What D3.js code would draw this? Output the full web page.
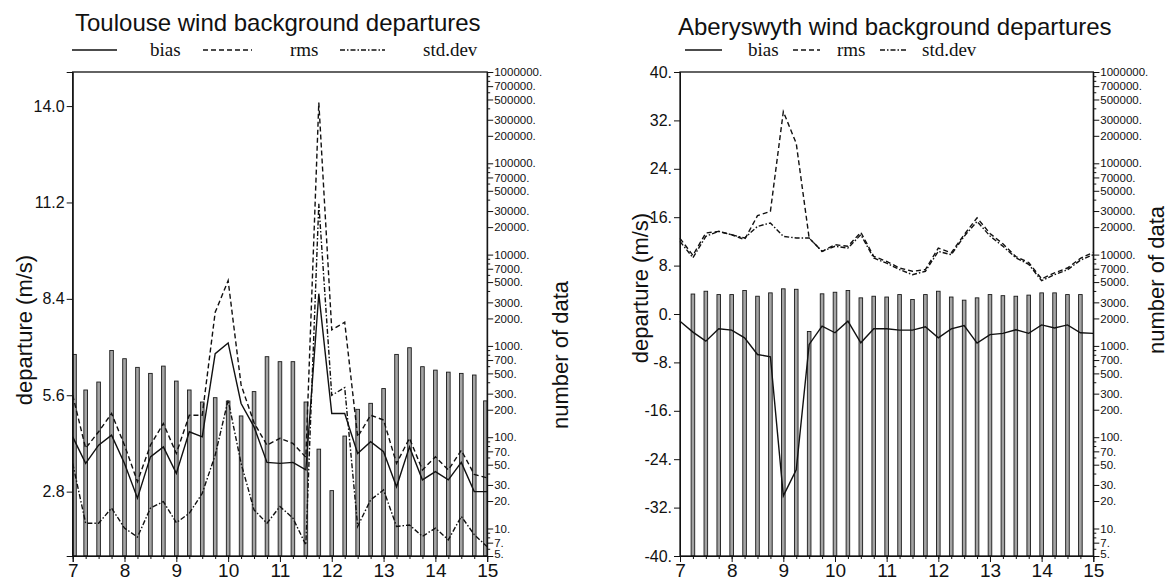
<!DOCTYPE html>
<html><head><meta charset="utf-8">
<script src="https://cdn.jsdelivr.net/npm/d3@7"></script>
<style>body{margin:0;background:#fff}svg{display:block}</style>
</head><body>
<svg id="c" width="1176" height="583"></svg>
<script>
// ---------- data ----------
const hours = [7,7.25,7.5,7.75,8,8.25,8.5,8.75,9,9.25,9.5,9.75,10,10.25,10.5,10.75,11,11.25,11.5,11.75,12,12.25,12.5,12.75,13,13.25,13.5,13.75,14,14.25,14.5,14.75,15];
const xTickLabels = [7,8,9,10,11,12,13,14,15];

const toulouseBias = [4.39,3.62,4.15,4.44,3.62,2.61,3.81,4.10,3.33,4.54,4.39,6.81,7.12,5.36,4.68,3.65,3.62,3.65,3.43,8.55,5.07,5.07,3.91,4.25,3.96,2.94,4.10,3.14,3.38,3.14,3.65,2.80,2.80];
const toulouseRms  = [5.60,4.06,4.54,5.07,4.15,3.09,4.15,4.78,3.91,5.02,5.02,8.01,8.93,5.90,4.80,4.15,4.35,4.20,3.80,14.10,7.50,7.72,4.39,5.02,4.88,3.62,4.35,3.43,3.81,3.43,4.00,3.30,3.20];
const toulouseStd  = [3.62,1.88,1.88,2.32,1.74,1.48,2.32,2.51,1.90,2.17,2.75,3.86,5.46,3.62,2.27,1.88,2.37,2.03,1.25,11.16,5.60,5.82,1.79,2.56,2.85,1.79,1.83,1.50,1.74,1.40,2.08,1.55,1.20];
const toulouseCount = [807,329,402,891,724,582,500,601,412,329,243,271,249,171,316,762,672,672,243,74,26,103,202,235,341,807,955,592,543,516,500,480,250];
const toulouseTicks = [2.8,5.6,8.4,11.2,14.0];

const aberBias = [-1.2,-3.0,-4.49,-2.45,-2.67,-3.94,-6.7,-7.07,-30.06,-25.76,-5.03,-2.0,-3.1,-1.19,-4.75,-2.45,-2.45,-2.67,-2.67,-2.12,-3.94,-2.45,-1.9,-4.8,-3.4,-3.2,-2.6,-3.2,-1.8,-2.3,-1.8,-3.1,-3.2];
const aberRms  = [12.5,9.7,13.4,13.66,13.1,12.3,16.25,16.96,33.45,28.2,12.55,10.36,11.46,11.2,13.5,9.53,8.7,7.6,7.06,7.34,10.9,10.1,13.1,15.9,13.3,11.6,9.5,8.5,5.8,6.8,7.6,9.2,10.2];
const aberStd  = [12.0,9.3,12.84,13.66,13.1,12.56,14.48,15.04,12.84,12.56,12.56,10.36,11.2,10.9,13.1,9.26,8.4,7.34,6.5,7.06,10.36,9.8,12.84,15.3,12.9,11.2,9.3,8.2,5.5,6.5,7.3,8.9,9.8];
const aberCount = [null,3700,3970,3650,3650,4040,3500,3810,4220,4170,1440,3720,3870,4040,3360,3500,3430,3650,3220,3650,3970,3430,3170,3360,3650,3550,3500,3600,3810,3810,3650,3650,null];
const aberTicks = [-40,-32,-24,-16,-8,0,8,16,24,32,40];

const countTickLabels = [5,7,10,20,30,50,70,100,200,300,500,700,1000,2000,3000,5000,7000,10000,20000,30000,50000,70000,100000,200000,300000,500000,700000,1000000];
const legendLabels = ["bias","rms","std.dev"];

// ---------- layout ----------
const Y0 = 72, Y1 = 556;
const panels = [
  {title:"Toulouse wind background departures", x0:72.7, x1:487.2, yDomain:[0.93,14.99], ticks:toulouseTicks,
   fmt:d3.format(".1f"), bias:toulouseBias, rms:toulouseRms, std:toulouseStd, count:toulouseCount,
   titleX:75, titleY:31, leg:{solid:[72,117], bias:150, dash:[203,252], rms:290, dd:[340,385], std:423},
   ylab:[24,330], nlab:[560,355]},
  {title:"Aberyswyth wind background departures", x0:680, x1:1093.3, yDomain:[-40,40], ticks:aberTicks,
   fmt:d=>d+".", bias:aberBias, rms:aberRms, std:aberStd, count:aberCount,
   titleX:678, titleY:35, leg:{solid:[685,722], bias:748, dash:[793,820], rms:837, dd:[880,908], std:922},
   ylab:[640,288], nlab:[1156,280]}
];

const svg = d3.select("#c");
const sans = "'Liberation Sans', Arial, Helvetica, sans-serif";
const serif = "'Liberation Serif', 'Times New Roman', serif";

const minorCount = [];
for (let e = 0; e <= 5; e++) for (const m of [4,6,8,9]) { const v = m*Math.pow(10,e); if (v>5 && v<1e6) minorCount.push(v); }

panels.forEach(p => {
  const g = svg.append("g");
  const x = d3.scaleLinear().domain([7,15]).range([p.x0,p.x1]);
  const y = d3.scaleLinear().domain(p.yDomain).range([Y1,Y0]);
  const yc = d3.scaleLog().domain([5,1e6]).range([Y1,Y0]);

  // bars (number of data)
  const bw = 3.6;
  const bars = hours.map((h,i)=>({h, n:p.count[i]})).filter(d=>d.n!=null);
  g.selectAll("rect.bar").data(bars).join("rect")
    .attr("x", d => Math.max(p.x0, Math.min(p.x1-bw, x(d.h)-bw/2)))
    .attr("y", d => yc(d.n))
    .attr("width", bw)
    .attr("height", d => Y1 - yc(d.n))
    .attr("fill", "#a4a4a4").attr("stroke", "#1a1a1a").attr("stroke-width", 0.9);

  // lines
  const line = arr => d3.line().x((d,i)=>x(hours[i])).y(d=>y(d))(arr);
  const styles = [
    {data:p.std, dash:"5,2,1.5,2"},
    {data:p.rms, dash:"5,3"},
    {data:p.bias, dash:null}
  ];
  styles.forEach(s => {
    g.append("path").attr("d", line(s.data)).attr("fill","none")
      .attr("stroke","#111").attr("stroke-width",1.4)
      .attr("stroke-dasharray", s.dash);
  });

  // frame
  g.append("rect").attr("x",p.x0).attr("y",Y0).attr("width",p.x1-p.x0).attr("height",Y1-Y0)
    .attr("fill","none").attr("stroke","#111").attr("stroke-width",1.3);

  // left axis
  const ax = g.append("g").attr("transform",`translate(${p.x0},0)`)
    .call(d3.axisLeft(y).tickValues(p.ticks).tickFormat(p.fmt).tickSize(6).tickPadding(2));
  ax.selectAll("text").attr("font-family",sans).attr("font-size",16).attr("fill","#111");

  // bottom axis: minor (quarters) + major (integers)
  g.append("g").attr("transform",`translate(0,${Y1})`)
    .call(d3.axisBottom(x).tickValues(hours).tickFormat("").tickSize(3))
    .call(s=>s.select(".domain").remove());
  const bx = g.append("g").attr("transform",`translate(0,${Y1})`)
    .call(d3.axisBottom(x).tickValues(xTickLabels).tickFormat(d3.format("d")).tickSize(6).tickPadding(2));
  bx.selectAll("text").attr("font-family",sans).attr("font-size",19).attr("fill","#111");

  // right log axis
  g.append("g").attr("transform",`translate(${p.x1},0)`)
    .call(d3.axisRight(yc).tickValues(minorCount).tickFormat("").tickSize(3))
    .call(s=>s.select(".domain").remove());
  const rx = g.append("g").attr("transform",`translate(${p.x1},0)`)
    .call(d3.axisRight(yc).tickValues(countTickLabels).tickFormat(d=>d+".").tickSize(6).tickPadding(1));
  rx.selectAll("text").attr("font-family",sans).attr("font-size",11.5).attr("fill","#111");
  rx.selectAll(".tick").filter(d=>d===5).select("text").attr("dy","0.1em");

  g.selectAll(".domain, .tick line").attr("stroke","#111");

  // titles
  g.append("text").attr("x",p.titleX).attr("y",p.titleY).text(p.title)
    .attr("font-family",sans).attr("font-size",24).attr("fill","#111");
  g.append("text").attr("transform",`translate(${p.ylab[0]},${p.ylab[1]}) rotate(-90)`)
    .attr("text-anchor","middle").attr("dy","0.35em").text("departure (m/s)")
    .attr("font-family",sans).attr("font-size",22).attr("fill","#111");
  g.append("text").attr("transform",`translate(${p.nlab[0]},${p.nlab[1]}) rotate(-90)`)
    .attr("text-anchor","middle").attr("dy","0.35em").text("number of data")
    .attr("font-family",sans).attr("font-size",22).attr("fill","#111");

  // legend
  const ly = 50, lt = 56;
  const L = p.leg;
  g.append("line").attr("x1",L.solid[0]).attr("x2",L.solid[1]).attr("y1",ly).attr("y2",ly).attr("stroke","#111").attr("stroke-width",1.3);
  g.append("line").attr("x1",L.dash[0]).attr("x2",L.dash[1]).attr("y1",ly).attr("y2",ly).attr("stroke","#111").attr("stroke-width",1.3).attr("stroke-dasharray","5,3");
  g.append("line").attr("x1",L.dd[0]).attr("x2",L.dd[1]).attr("y1",ly).attr("y2",ly).attr("stroke","#111").attr("stroke-width",1.3).attr("stroke-dasharray","5,2,1.5,2");
  [[L.bias,legendLabels[0]],[L.rms,legendLabels[1]],[L.std,legendLabels[2]]].forEach(([lx,t])=>{
    g.append("text").attr("x",lx).attr("y",lt).text(t)
      .attr("font-family",serif).attr("font-size",19).attr("fill","#111");
  });
});
</script>
</body></html>
